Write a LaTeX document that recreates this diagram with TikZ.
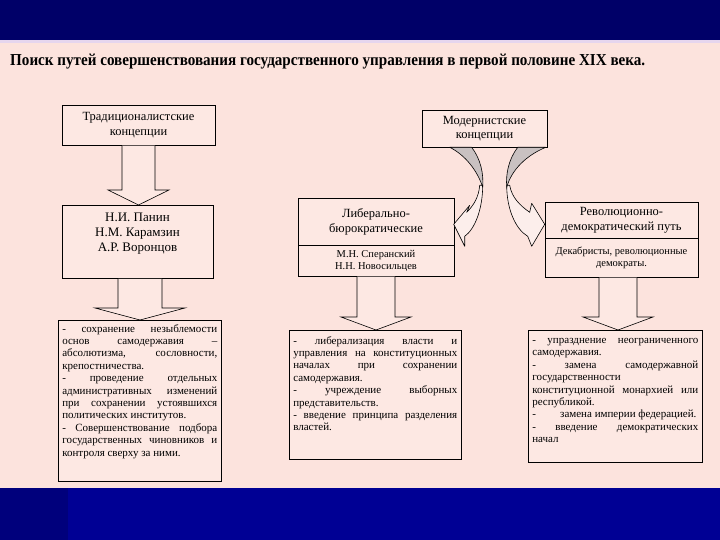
\documentclass[tikz,border=0pt]{standalone}
\usepackage{fontspec}
\usepackage{graphicx}
\setmainfont{Liberation Serif}
\usetikzlibrary{calc}
\definecolor{bgpink}{HTML}{FCE3DD}
\definecolor{boxpink}{HTML}{FDE8E3}
\definecolor{navytop}{HTML}{000068}
\definecolor{navybot}{HTML}{000094}
\definecolor{navybotl}{HTML}{00007C}
\definecolor{lav}{HTML}{E6D6EE}
\definecolor{foldgray}{HTML}{C9C1C1}
\definecolor{frontpink}{HTML}{FCEEEB}
\tikzset{
  hbox/.style={draw=black, line width=0.6pt, fill=boxpink, align=center, inner sep=1pt},
  tbox/.style={draw=black, line width=0.6pt, fill=boxpink, inner sep=4pt, anchor=north west},
  arrowbox/.style={draw=black, line width=0.6pt, fill=boxpink, line join=miter},
  curvebox/.style={draw=black, line width=0.6pt, line join=round},
}
\newcommand\blockarr[6]{%
  \coordinate (tmpS) at ($(#1.south)+(#6,0.3)$);
  \coordinate (tmpT) at (tmpS |- #2.north);
  \draw[arrowbox] ($(tmpS)+(-#3,0)$) -- ($(tmpT)+(-#3,-#5)$) -- ($(tmpT)+(-#4,-#5)$)
    -- (tmpT) -- ($(tmpT)+(#4,-#5)$) -- ($(tmpT)+(#3,-#5)$) -- ($(tmpS)+(#3,0)$);
}
\newcommand\boxtext[4]{\parbox[t][#2][t]{#1}{\fontsize{11}{12.4}\selectfont
  \tolerance=10000 \hbadness=10000 \hfuzz=20pt \hyphenpenalty=10000 \parindent=0pt \vspace*{#3}#4}}
\begin{document}
\begin{tikzpicture}[x=1pt,y=-1pt]
\useasboundingbox (0,0) rectangle (720,540);
% background
\fill[navytop] (0,0) rectangle (720,40);
\fill[lav] (0,40) rectangle (720,43);
\fill[bgpink] (0,43) rectangle (720,488);
\fill[navybot] (0,488) rectangle (720,540);
\fill[navybotl] (0,488) rectangle (68,540);
% title
\node[anchor=west, inner sep=0pt] (title) at (10,62)
  {\resizebox{635pt}{11.5pt}{\bfseries Поиск путей совершенствования государственного управления в первой половине XIX века.}};
% left column
\node[hbox, minimum width=153pt, minimum height=40pt, font=\fontsize{12.5}{15}\selectfont] (A) at (138.5,125)
  {Традиционалистские\\концепции};
\node[hbox, minimum width=151pt, minimum height=68pt, font=\fontsize{13}{15}\selectfont, anchor=north] (B) at (137.5,205)
  {\rule{0pt}{15pt}Н.И. Панин\\Н.М. Карамзин\\А.Р. Воронцов\\[11pt]};
\node[tbox] (C) at (58,320) {\boxtext{155pt}{153pt}{0pt}{%
- сохранение незыблемости\linebreak
основ самодержавия –\linebreak
абсолютизма, сословности,\linebreak
крепостничества.\par
- проведение отдельных\linebreak
административных изменений\linebreak
при сохранении устоявшихся\linebreak
политических институтов.\par
- Совершенствование подбора\linebreak
государственных чиновников и\linebreak
контроля сверху за ними.}};
% middle column
\node[hbox, minimum width=125pt, minimum height=37pt, font=\fontsize{12.5}{14.5}\selectfont] (M) at (484.5,128.5)
  {Модернистские\\концепции};
\node[hbox, minimum width=156pt, minimum height=47pt, font=\fontsize{12.5}{15}\selectfont] (Ltop) at (376,221.5)
  {Либерально-\\бюрократические};
\node[hbox, minimum width=156pt, minimum height=31pt, font=\fontsize{10.5}{12}\selectfont] (Lbot) at (376,260.5)
  {М.Н. Сперанский\\Н.Н. Новосильцев};
\node[tbox] (Mid) at (289,330) {\boxtext{164pt}{121pt}{2pt}{%
- либерализация власти и\linebreak
управления на конституционных\linebreak
началах при сохранении\linebreak
самодержавия.\par
- учреждение выборных\linebreak
представительств.\par
- введение принципа разделения\linebreak
властей.}};
% right column
\node[hbox, minimum width=153pt, minimum height=36pt, font=\fontsize{12.5}{15}\selectfont] (Rtop) at (621.5,220)
  {Революционно-\\демократический путь};
\node[hbox, minimum width=153pt, minimum height=39pt, font=\fontsize{10.5}{12}\selectfont] (Rbot) at (621.5,257.5)
  {Декабристы, революционные\\демократы.};
\node[tbox] (Rt) at (528,330) {\boxtext{166pt}{124pt}{4pt}{%
- упразднение неограниченного\linebreak
самодержавия.\par
- замена самодержавной\linebreak
государственности\\
конституционной монархией или\linebreak
республикой.\par
-\hspace{2.2em}замена империи федерацией.\par
- введение демократических\linebreak
начал}};
% straight block arrows
\blockarr{A}{B}{16.5}{30.5}{15}{0}
\blockarr{B}{C}{22}{45}{12}{2.5}
\blockarr{Lbot}{Mid}{19}{35}{13}{0}
\blockarr{Rbot}{Rt}{19}{35}{13}{-3.5}
% curved arrows from M
\begin{scope}[shift={(M.south west)}]
  % left curved arrow (to Ltop)
  \draw[curvebox, fill=frontpink] (61,38) .. controls (61,62) and (53,82) .. (43,89)
    -- (43,99) -- (32,77) -- (48,58) -- (45,65) .. controls (52,58) and (57,50) .. (58,38) -- cycle;
  \draw[curvebox, fill=foldgray] (50,0) .. controls (59,12) and (62,26) .. (61,40)
    .. controls (56,24) and (44,8) .. (28,0) -- cycle;
  % right curved arrow (to Rtop)
  \draw[curvebox, fill=frontpink] (85,38) .. controls (85,62) and (94,82) .. (106,89)
    -- (110,99) -- (123,77) -- (110,56) -- (108,65) .. controls (98,58) and (90,50) .. (88,38) -- cycle;
  \draw[curvebox, fill=foldgray] (96,0) .. controls (87,12) and (84,26) .. (85,40)
    .. controls (90,22) and (105,8) .. (124,0) -- cycle;
\end{scope}
\end{tikzpicture}
\end{document}
